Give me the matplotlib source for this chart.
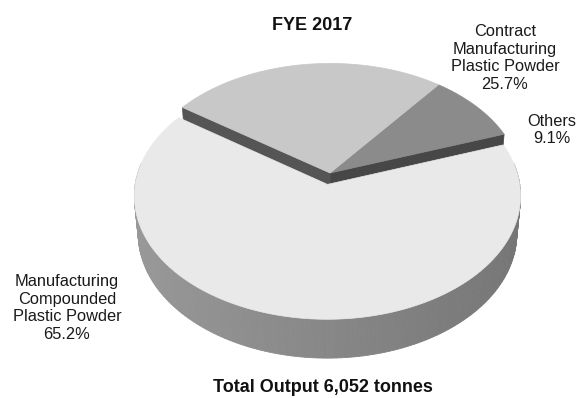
import numpy as np
import matplotlib
import matplotlib.pyplot as plt
from matplotlib.patches import Polygon

matplotlib.use('Agg')
plt.rcParams['font.family'] = ['Liberation Sans', 'DejaVu Sans']

# Output mix for FYE 2017 (share of total tonnes, %)
labels = ['Others', 'Contract\nManufacturing\nPlastic Powder',
          'Manufacturing\nCompounded\nPlastic Powder']
shares = [9.1, 25.7, 65.2]
top_colors = ['#8b8b8b', '#c8c8c8', '#e9e9e9']
wall_colors = ['#474747', '#555555', None]
explode = [0.0, 0.0, 0.095]
title = 'FYE 2017'
footer = 'Total Output 6,052 tonnes'

# camera for the tilted pie
ELEV = np.radians(39)
DIST = 8.24
HEIGHT = 0.26
CX, CY, SCALE = 330, 173, 1570
START = 19.5


def project(x, y, z):
    depth = y * np.cos(ELEV) - z * np.sin(ELEV) + DIST
    sx = x / depth
    sy = (y * np.sin(ELEV) + z * np.cos(ELEV)) / depth
    return CX + SCALE * sx, CY - SCALE * sy


def top_face(t0, t1, off):
    t = np.radians(np.linspace(t0, t1, 120))
    xs = np.concatenate([[0], np.cos(t)]) + off[0]
    ys = np.concatenate([[0], np.sin(t)]) + off[1]
    px, py = project(xs, ys, np.zeros_like(xs))
    return np.column_stack([px, py])


def radial_wall(t, off):
    a = np.radians(t)
    xs = np.array([0, np.cos(a), np.cos(a), 0]) + off[0]
    ys = np.array([0, np.sin(a), np.sin(a), 0]) + off[1]
    zs = np.array([0, 0, -HEIGHT, -HEIGHT])
    px, py = project(xs, ys, zs)
    return np.column_stack([px, py])


fig = plt.figure(figsize=(5.81, 3.98), dpi=100)
ax = fig.add_axes([0, 0, 1, 1])
ax.set_xlim(0, 581)
ax.set_ylim(398, 0)
ax.axis('off')

bounds = START + 360 * np.concatenate([[0], np.cumsum(shares)]) / sum(shares)

# back slices: only the walls that face the front slice show
facing = [bounds[0], bounds[2]]
for i in range(2):
    ax.add_patch(Polygon(radial_wall(facing[i], (0, 0)), closed=True,
                         fc=wall_colors[i], ec=wall_colors[i], lw=0.5))
for i in range(2):
    t0, t1 = bounds[i], bounds[i + 1]
    ax.add_patch(Polygon(top_face(t0, t1, (0, 0)), closed=True,
                         fc=top_colors[i], ec=top_colors[i], lw=0.5))

# front slice, pulled towards the viewer
t0, t1 = bounds[2], bounds[3]
mid = np.radians((t0 + t1) / 2)
off = (explode[2] * np.cos(mid), explode[2] * np.sin(mid))
angles = np.linspace(170, 370, 161)
for a0, a1 in zip(angles[:-1], angles[1:]):
    ta, tb = np.radians([a0, a1])
    xs = np.array([np.cos(ta), np.cos(tb), np.cos(tb), np.cos(ta)]) + off[0]
    ys = np.array([np.sin(ta), np.sin(tb), np.sin(tb), np.sin(ta)]) + off[1]
    zs = np.array([0, 0, -HEIGHT, -HEIGHT])
    px, py = project(xs, ys, zs)
    am = (ta + tb) / 2
    g = np.clip(0.53 - 0.07 * np.cos(am), 0, 1)
    ax.add_patch(Polygon(np.column_stack([px, py]), closed=True,
                         fc=(g, g, g), ec=(g, g, g), lw=0.6))
ax.add_patch(Polygon(top_face(t0, t1, off), closed=True,
                     fc=top_colors[2], ec=top_colors[2], lw=0.5))

# labels
label_pos = [(552, 130), (505, 58), (67, 308)]
for lab, val, (x, y) in zip(labels, shares, label_pos):
    ax.text(x, y, f'{lab}\n{val:.1f}%', ha='center', va='center',
            fontsize=11.8, color='#1a1a1a', linespacing=1.2)

ax.text(312, 25, title, ha='center', va='center', fontsize=13,
        fontweight='bold', color='#111111')
ax.text(323, 387, footer, ha='center', va='center', fontsize=13,
        fontweight='bold', color='#111111')

fig.savefig('out.png', dpi=100, facecolor='white')
